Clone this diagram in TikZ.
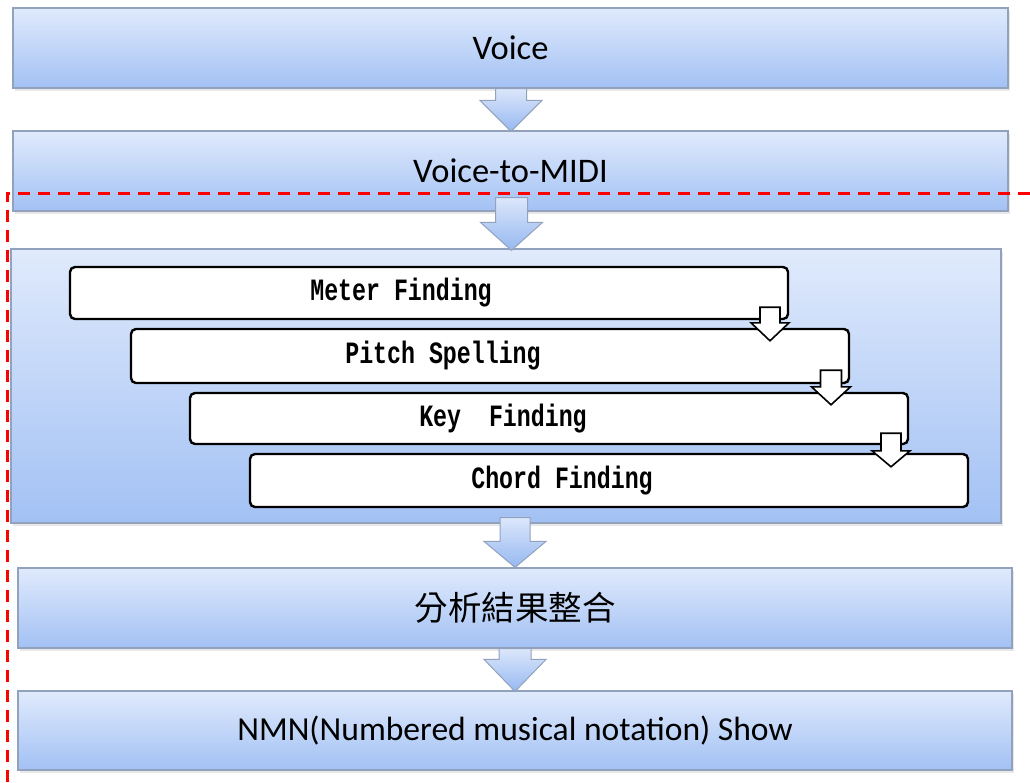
\documentclass[tikz,border=0pt]{standalone}
\usepackage{fontspec}
\setmainfont{Carlito}
\newfontfamily\cjk{Noto Sans CJK TC}
\newfontfamily\monob[FakeStretch=0.75]{Liberation Mono}
\usetikzlibrary{calc,shadows}
\definecolor{btop}{RGB}{224,234,252}
\definecolor{bbot}{RGB}{162,193,244}
\definecolor{bedge}{RGB}{146,162,188}
\definecolor{atop}{RGB}{220,231,251}
\definecolor{abot}{RGB}{150,184,240}
\tikzset{
  bluebox/.style={draw=bedge, line width=1.2pt, top color=btop, bottom color=bbot,
    drop shadow={opacity=0.18, shadow xshift=1.5pt, shadow yshift=-2.5pt},
    inner sep=0pt, font=\fontsize{34.5}{37}\selectfont},
  whitebox/.style={draw=black, line width=2.4pt, fill=white, rounded corners=5pt, inner sep=0pt},
  steptext/.style={font=\monob\bfseries\fontsize{31}{33}\selectfont, inner sep=0pt},
  bigarrow/.style={draw=bedge, line width=1pt, top color=atop, bottom color=abot},
  smallarrow/.style={draw=black, line width=1.6pt, fill=white},
  reddash/.style={draw=red, line width=3pt, dash pattern=on 12pt off 8pt}
}
% block arrow: #1 style, #2 top centre, #3 tip, #4 shaft half width, #5 head half width, #6 head length
\newcommand\blockarrow[6]{%
  \path[#1] let \p1=(#2), \p2=(#3) in
    (\x2-#4,\y1) -- (\x2+#4,\y1) -- (\x2+#4,\y2+#6) -- (\x2+#5,\y2+#6) -- (\x2,\y2)
    -- (\x2-#5,\y2+#6) -- (\x2-#4,\y2+#6) -- cycle;}
\begin{document}
\begin{tikzpicture}[x=1pt,y=-1pt]
\useasboundingbox (0,0) rectangle (1030,782);
\fill[white] (0,0) rectangle (1030,782);

% outer blue boxes
\node[bluebox, minimum width=995pt, minimum height=80pt] (voice) at (510.5,48) {Voice};
\node[bluebox, minimum width=995pt, minimum height=80pt] (midi) at (510.5,171) {Voice-to-MIDI};
\node[bluebox, minimum width=990pt, minimum height=274pt] (group) at (506,386) {};
\node[bluebox, minimum width=994pt, minimum height=80pt] (merge) at (515,608) {\cjk\fontsize{33.5}{35}\selectfont 分析結果整合};
\node[bluebox, minimum width=994pt, minimum height=79pt, font=\fontsize{33.6}{36}\selectfont] (nmn) at (515,730.5) {NMN(Numbered musical notation) Show};

% inner white steps
\node[whitebox, minimum width=718pt, minimum height=52pt] (meter) at (429,293) {};
\node[whitebox, minimum width=718pt, minimum height=54pt] (pitch) at (490,356) {};
\node[whitebox, minimum width=718pt, minimum height=51pt] (key) at (549,418.5) {};
\node[whitebox, minimum width=718pt, minimum height=53pt] (chord) at (609,480.5) {};
\node[steptext] (tmeter) at ($(meter.center)+(-28,0)$) {Meter Finding};
\node[steptext] (tpitch) at ($(pitch.center)+(-47,0)$) {Pitch Spelling};
\node[steptext] (tkey) at ($(key.center)+(-46,0)$) {Key\ \ Finding};
\node[steptext] (tchord) at ($(chord.center)+(-47,0)$) {Chord Finding};

% big arrows
\blockarrow{bigarrow}{voice.south}{$(midi.north)+(0.5,1)$}{15.5}{31}{31}
\blockarrow{bigarrow}{$(midi.south)+(1.5,-14)$}{$(group.north)+(5.5,2)$}{16}{31}{28}
\blockarrow{bigarrow}{$(group.south)+(8.5,-6)$}{merge.north}{15}{31}{26}
\blockarrow{bigarrow}{merge.south}{$(nmn.north)+(0,1)$}{16}{31}{32}

% small arrows
\blockarrow{smallarrow}{$(meter.south east)+(-18,-13)$}{$(pitch.north)+(280,13)$}{10}{19}{18}
\blockarrow{smallarrow}{$(pitch.south east)+(-18,-14)$}{$(key.north)+(282,13)$}{10.5}{19.5}{18}
\blockarrow{smallarrow}{$(key.south east)+(-17,-12)$}{$(chord.north)+(282,14)$}{10}{19}{16}

% red dashed boundary
\coordinate (rA) at (1030,193);
\coordinate (rB) at (7,193);
\coordinate (rC) at (7,782);
\draw[reddash] (rA) -- (rB) -- (rC);
\end{tikzpicture}
\end{document}
